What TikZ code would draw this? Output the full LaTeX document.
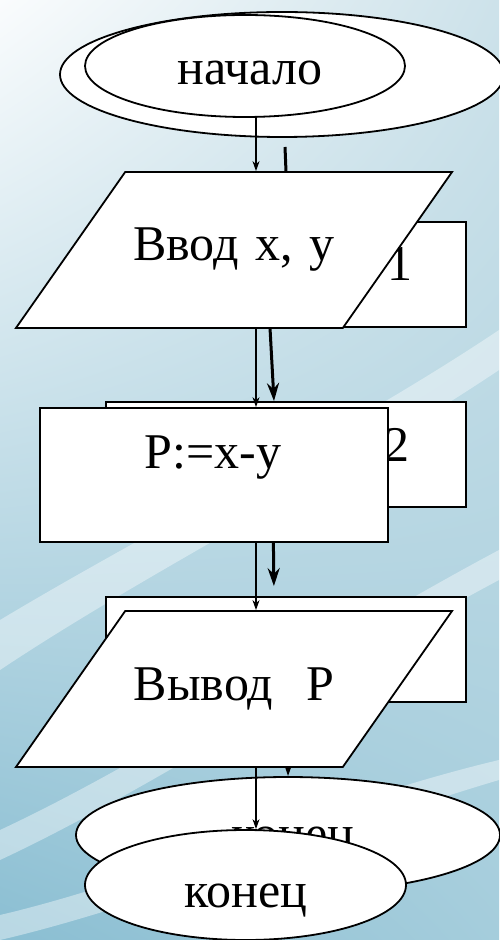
\documentclass[tikz,border=0pt]{standalone}
\usepackage{fontspec}
\setmainfont{Liberation Serif}
\usetikzlibrary{positioning, arrows.meta, shapes.geometric, shadings}

\definecolor{bgwhite}{RGB}{250,252,253}
\definecolor{bgtop}{RGB}{205,226,234}
\definecolor{bgblue}{RGB}{138,190,210}
\definecolor{bgmid}{RGB}{165,205,220}

\begin{document}
\begin{tikzpicture}[
    x=0.5pt, y=-0.5pt,
    >=Stealth,
    % terminal ellipse (start / end)
    term/.style={ellipse, draw, line width=0.9pt, fill=white, inner sep=0pt},
    % process box
    proc/.style={rectangle, draw, line width=0.9pt, fill=white, inner sep=0pt},
    % input / output parallelogram
    io/.style={trapezium, trapezium left angle=55, trapezium right angle=125,
               draw, line width=0.9pt, fill=white,
               inner xsep=0pt, inner ysep=27.5pt, text width=108.8pt, align=center,
               text height=17pt, text depth=6pt,
               font=\fontsize{25}{30}\selectfont},
    % text set on its baseline
    lbl/.style={anchor=base, inner sep=0pt, font=\fontsize{25}{30}\selectfont},
    % thin flow arrow
    arr/.style={->, line width=0.6pt, >={Stealth[length=5pt, width=3.5pt]}},
    % thick arrow of the chart behind
    tarr/.style={->, line width=1.5pt, >={Stealth[length=9pt, width=6pt]}},
    % light streak of the slide background
    streak/.style={fill=white, fill opacity=0.4, draw=none},
]
\useasboundingbox (0,0) rectangle (499,940);

% ============================================================
% Background of the slide
% ============================================================
\shade[upper left=bgwhite, upper right=bgtop, lower left=bgblue, lower right=bgmid]
    (0,0) rectangle (499,940);
\fill[streak] (0,620) .. controls (150,530) and (350,430) .. (499,330)
    -- (499,370) .. controls (350,470) and (150,570) .. (0,670) -- cycle;
\fill[streak] (0,830) .. controls (150,760) and (330,640) .. (499,550)
    -- (499,580) .. controls (330,670) and (150,790) .. (0,860) -- cycle;
\fill[streak] (0,915) .. controls (150,880) and (330,800) .. (499,760)
    -- (499,780) .. controls (330,830) and (150,905) .. (0,940) -- cycle;

% ============================================================
% Chart behind (numbered blocks)
% ============================================================
\node[term, minimum width=222pt, minimum height=62.5pt] (start2) at (282,74.5) {};
\node[proc, minimum width=180pt, minimum height=52.5pt] (box1) at (286,274.5) {};
\node[proc, minimum width=180pt, minimum height=52.5pt] (box2) at (286,454.5) {};
\node[proc, minimum width=180pt, minimum height=52.5pt] (box3) at (286,649.5) {};
\node[term, minimum width=212pt, minimum height=58pt] (end2) at (288,835) {};

\node[lbl] (num1) at (400,281) {1};
\node[lbl] (num2) at (397,461) {2};
\node[lbl] (end2lbl) at (293,850) {конец};

% thick arrows between the numbered blocks
\coordinate (t0) at (285,147);
\draw[tarr] (t0) -- ([xshift=1pt]box1.north);
\draw[tarr] ([xshift=-8pt]box1.south) -- ([xshift=-6pt]box2.north);
\draw[tarr, shorten >=5pt] ([xshift=-6.5pt]box2.south) -- ([xshift=-6pt]box3.north);
\draw[tarr] ([xshift=1.5pt]box3.south) -- (end2.north);

% ============================================================
% Chart in front
% ============================================================
\node[term, minimum width=160pt, minimum height=51pt] (start) at (245,66) {};
\node[io] (inp) at (234,250) {Ввод x, y};
\node[proc, minimum width=174pt, minimum height=67pt] (calc) at (214,475) {};
\node[io] (outp) at (234,689) {Вывод\ \ P};
\node[term, minimum width=160.5pt, minimum height=55pt] (stop) at (245.5,885) {};

\node[lbl] (startlbl) at (250,85) {начало};
\node[lbl] (calclbl) at (213,468) {P:=x-y};
\node[lbl] (stoplbl) at (246,907) {конец};

% thin flow arrows, all on one column
\coordinate (col) at (256,0);
\draw[arr] (start.south -| col) -- (inp.north -| col);
\draw[arr] (inp.south -| col) -- (calc.north -| col);
\draw[arr] (calc.south -| col) -- (outp.north -| col);
\draw[arr] (outp.south -| col) -- (stop.north -| col);

\end{tikzpicture}
\end{document}
